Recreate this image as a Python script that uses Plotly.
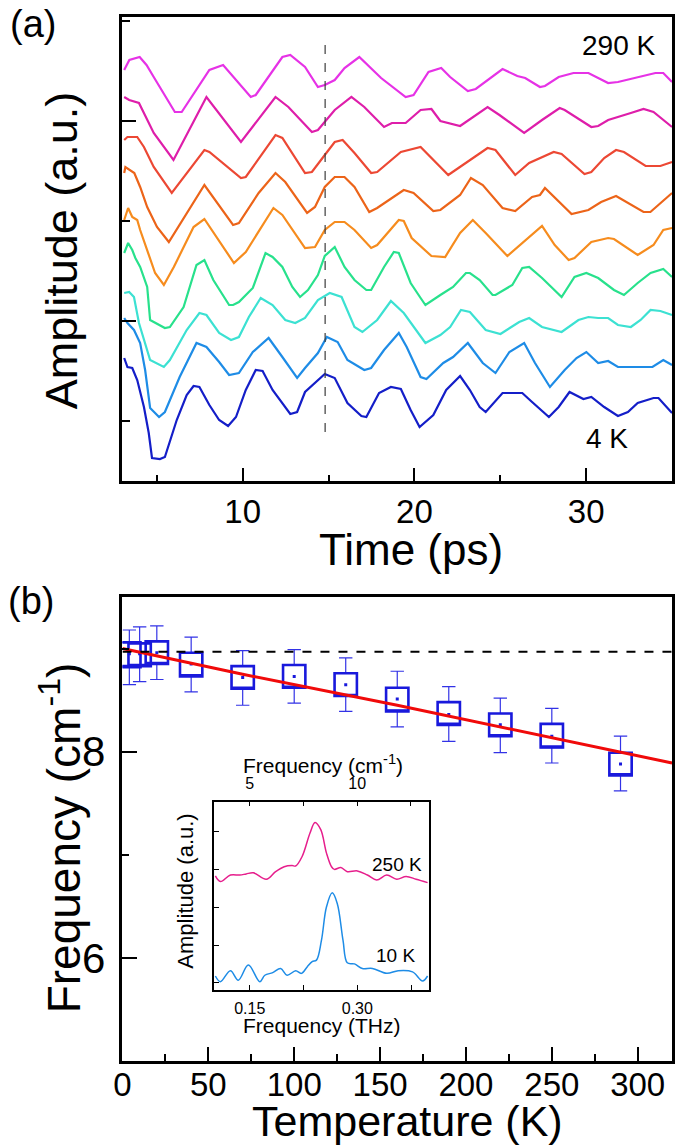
import plotly.graph_objects as go

# ---------------- Panel (a): time traces (time in ps, amplitude in a.u. incl. offset) -------------
t1 = [3.1, 3.4, 4.0, 4.4, 4.82, 5.4, 6.05, 6.45, 8.06, 8.86, 10.47, 10.76, 12.31, 12.77, 13.63, 14.38, 14.78, 15.36, 15.93, 16.79, 17.66, 18.06, 19.49, 19.95, 20.82, 21.56, 22.08, 23.11, 23.57, 25.13, 25.99, 26.45, 27.31, 27.60, 28.40, 29.26, 30.13, 31.28, 31.85, 32.60, 34.03, 34.49, 35.0]
a1 = [351, 361, 364, 356, 344, 328, 309, 309, 351, 356, 324, 326, 364, 366, 354, 334, 336, 341, 353, 364, 349, 343, 324, 326, 349, 353, 344, 330, 332, 352, 345, 343, 334, 335, 344, 348, 348, 338, 339, 342, 348, 348, 339]

t2 = [3.1, 3.39, 3.96, 4.25, 4.82, 5.97, 7.89, 9.9, 11.91, 12.66, 14.03, 14.38, 15.36, 16.33, 17.08, 18.23, 18.69, 19.49, 20.36, 20.99, 21.51, 22.66, 24.26, 24.95, 26.39, 27.43, 28.46, 28.75, 30.30, 30.70, 31.28, 32.60, 33.34, 33.92, 35.0]
a2 = [324, 321, 318, 308, 288, 261, 324, 279, 324, 314, 289, 291, 311, 324, 314, 294, 298, 298, 311, 312, 300, 295, 314, 306, 288, 301, 313, 311, 294, 295, 301, 308, 312, 309, 294]

t3 = [3.1, 3.29, 3.86, 4.25, 4.82, 5.87, 7.77, 8.06, 9.9, 10.18, 11.91, 12.31, 13.63, 14.03, 14.78, 15.36, 15.82, 16.51, 17.48, 17.83, 19.21, 20.36, 21.97, 22.66, 24.26, 24.72, 25.87, 26.68, 28.11, 28.57, 29.90, 30.30, 31.05, 31.74, 32.20, 33.46, 34.32, 35.0]
a3 = [281, 284, 284, 274, 254, 228, 271, 269, 243, 244, 286, 283, 248, 249, 266, 279, 281, 268, 248, 249, 269, 274, 246, 254, 273, 271, 246, 258, 269, 267, 247, 249, 263, 271, 269, 255, 255, 259]

t4 = [3.1, 3.17, 3.69, 4.03, 4.44, 5.01, 5.70, 7.77, 9.44, 9.78, 10.93, 11.91, 12.48, 13.75, 14.21, 14.78, 15.36, 15.93, 16.51, 17.37, 17.83, 19.38, 19.95, 21.10, 21.51, 22.66, 23.29, 23.98, 25.13, 25.87, 26.85, 27.31, 27.60, 29.15, 30.13, 30.87, 31.74, 33.34, 33.74, 35.0]
a4 = [248, 254, 248, 234, 214, 194, 179, 236, 196, 198, 228, 248, 239, 208, 214, 234, 244, 244, 234, 209, 213, 231, 228, 210, 211, 226, 243, 236, 213, 210, 224, 226, 233, 207, 211, 219, 225, 209, 209, 228]

t5 = [3.1, 3.33, 3.57, 3.86, 4.03, 4.44, 4.90, 5.41, 5.99, 7.14, 7.77, 9.49, 10.18, 11.79, 12.31, 13.63, 14.21, 14.78, 15.36, 15.93, 16.51, 17.48, 17.83, 19.09, 19.38, 19.84, 20.99, 21.79, 22.66, 23.40, 24.15, 25.41, 26.28, 27.43, 28.17, 28.98, 29.32, 30.30, 31.28, 31.62, 33.0, 33.92, 34.49, 35.0]
a5 = [201, 213, 204, 201, 191, 171, 148, 136, 154, 194, 202, 158, 169, 213, 206, 173, 174, 191, 199, 199, 191, 173, 176, 201, 200, 183, 165, 164, 188, 201, 188, 165, 178, 195, 176, 161, 163, 179, 183, 182, 166, 176, 191, 193]

t6 = [3.1, 3.33, 3.57, 3.75, 4.03, 4.44, 4.61, 5.47, 5.76, 6.56, 7.31, 7.77, 8.29, 9.21, 9.44, 9.78, 10.59, 11.33, 11.74, 12.31, 12.89, 13.34, 13.80, 14.38, 14.78, 15.36, 15.93, 16.51, 17.20, 17.48, 18.23, 18.80, 19.09, 19.78, 20.36, 20.64, 21.51, 22.25, 23.0, 23.23, 23.80, 24.55, 24.72, 25.70, 26.28, 26.68, 27.43, 28.57, 29.32, 30.01, 30.70, 31.62, 32.20, 33.0, 33.75, 34.49, 35.0]
a6 = [168, 178, 171, 163, 154, 134, 101, 93, 94, 114, 156, 161, 141, 116, 116, 119, 133, 168, 164, 154, 134, 124, 131, 146, 165, 174, 154, 141, 131, 131, 154, 169, 168, 138, 123, 116, 126, 134, 148, 148, 141, 126, 126, 136, 153, 154, 143, 124, 144, 148, 143, 131, 126, 138, 148, 152, 144]

t7 = [3.1, 3.39, 3.67, 3.96, 4.61, 5.41, 5.76, 6.74, 7.48, 7.89, 8.63, 9.32, 9.78, 10.36, 11.05, 11.74, 12.48, 13.06, 13.63, 14.38, 15.07, 15.76, 16.51, 16.97, 17.83, 18.63, 19.38, 20.64, 21.51, 22.08, 22.71, 23.23, 24.15, 25.01, 26.10, 26.68, 27.43, 28.57, 29.55, 30.13, 30.70, 31.28, 31.85, 32.60, 33.17, 33.75, 34.32, 35.0]
a7 = [128, 129, 124, 98, 61, 54, 61, 91, 108, 106, 88, 81, 84, 104, 123, 116, 101, 98, 103, 121, 128, 124, 94, 89, 101, 120, 108, 78, 86, 94, 111, 109, 91, 87, 99, 103, 94, 89, 101, 104, 103, 103, 96, 94, 101, 111, 110, 106]

t8 = [3.1, 3.29, 3.67, 4.03, 4.32, 4.61, 5.13, 5.47, 6.33, 7.31, 7.89, 8.63, 9.21, 9.78, 10.59, 11.51, 12.31, 13.17, 13.63, 14.38, 14.90, 15.53, 16.10, 17.08, 17.48, 18.23, 19.09, 19.55, 20.36, 20.70, 21.68, 22.25, 23.11, 23.98, 24.72, 25.53, 26.39, 27.02, 27.89, 28.75, 29.44, 30.01, 30.70, 31.28, 31.85, 33.0, 33.86, 34.49, 35.0]
a8 = [103, 98, 91, 78, 51, 13, 4, 9, 44, 78, 74, 59, 46, 48, 69, 83, 64, 43, 53, 68, 84, 79, 61, 51, 53, 71, 88, 74, 44, 42, 58, 64, 78, 58, 48, 69, 78, 58, 34, 51, 63, 69, 58, 60, 54, 54, 54, 61, 56]

t9 = [3.10, 3.29, 3.57, 3.86, 4.25, 4.53, 4.72, 5.18, 5.47, 6.16, 6.74, 7.14, 7.48, 8.06, 8.63, 9.15, 9.61, 10.18, 10.76, 11.16, 11.74, 12.31, 12.77, 13.17, 13.63, 14.78, 15.36, 16.10, 16.91, 17.20, 17.94, 18.63, 19.21, 19.78, 20.30, 21.10, 21.85, 22.66, 23.23, 23.80, 24.15, 25.13, 25.70, 26.28, 26.85, 27.83, 28.40, 29.03, 29.84, 30.30, 31.05, 31.85, 32.43, 33.0, 33.92, 34.21, 35.0]
a9 = [63, 54, 53, 41, 14, -12, -37, -38, -36, 1, 26, 35, 34, 16, 1, -5, 4, 31, 51, 50, 31, 18, 7, 9, 29, 47, 43, 18, 5, 4, 28, 34, 32, 11, -6, 6, 31, 45, 31, 14, 9, 28, 28, 28, 19, 4, 14, 29, 22, 24, 14, 5, 9, 18, 23, 23, 8]

trace_times = [t1, t2, t3, t4, t5, t6, t7, t8, t9]
trace_amps = [a1, a2, a3, a4, a5, a6, a7, a8, a9]
trace_colors = ["rgb(230,50,230)", "rgb(222,30,170)", "rgb(236,72,52)", "rgb(236,100,25)",
                "rgb(246,140,30)", "rgb(40,225,140)", "rgb(60,225,210)", "rgb(30,140,230)",
                "rgb(20,30,200)"]

marker_time = 14.8          # dashed vertical guide (ps)
marker_amp = [376, -11]

# ---------------- Panel (b): frequency vs temperature -------------------------------
temps = [4, 10, 20, 40, 70, 100, 130, 160, 190, 220, 250, 290]
whisk_hi = [9.18, 9.21, 9.22, 9.11, 8.98, 8.99, 8.91, 8.78, 8.63, 8.52, 8.42, 8.15]
box_hi = [9.06, 9.05, 9.07, 8.96, 8.83, 8.84, 8.76, 8.62, 8.48, 8.37, 8.27, 7.99]
freq_mean = [8.95, 8.95, 8.96, 8.85, 8.72, 8.73, 8.65, 8.51, 8.36, 8.26, 8.15, 7.88]
box_lo = [8.82, 8.83, 8.85, 8.73, 8.61, 8.62, 8.54, 8.39, 8.26, 8.15, 8.04, 7.77]
whisk_lo = [8.65, 8.68, 8.70, 8.58, 8.45, 8.47, 8.39, 8.24, 8.10, 7.99, 7.89, 7.62]

fit_T = [0, 70, 160, 320]
fit_f = [9.00, 8.75, 8.45, 7.89]
ref_T = [0, 320]
ref_f = [8.97, 8.97]

# ---------------- Inset: spectra ---------------------------------------------------
CM_PER_THZ = 33.356
f250 = [0.102, 0.109, 0.123, 0.136, 0.145, 0.155, 0.173, 0.186, 0.198, 0.209, 0.214, 0.223, 0.234, 0.241, 0.249, 0.257, 0.264, 0.268, 0.277, 0.286, 0.300, 0.314, 0.327, 0.341, 0.355, 0.368, 0.382, 0.398]
a250 = [2.83, 2.68, 2.85, 2.85, 2.88, 2.91, 2.74, 2.94, 3.07, 3.10, 3.09, 3.34, 3.96, 4.24, 4.05, 3.43, 3.07, 3.00, 3.05, 2.94, 2.96, 2.85, 2.72, 2.85, 2.74, 2.81, 2.74, 2.65]
f10 = [0.102, 0.109, 0.123, 0.134, 0.148, 0.164, 0.171, 0.182, 0.193, 0.202, 0.214, 0.222, 0.230, 0.237, 0.243, 0.250, 0.257, 0.265, 0.272, 0.280, 0.286, 0.296, 0.307, 0.321, 0.341, 0.357, 0.377, 0.391, 0.398]
a10 = [0.18, 0.03, 0.32, 0.07, 0.47, 0.03, 0.20, 0.27, 0.38, 0.20, 0.32, 0.25, 0.42, 0.56, 0.60, 1.13, 2.01, 2.38, 2.10, 1.13, 0.53, 0.50, 0.38, 0.38, 0.25, 0.32, 0.29, 0.05, 0.18]

# ---------------- Layout geometry ----------------------------------------------------
W, H = 675, 1147
FONT = "Liberation Sans, Arial, Helvetica, sans-serif"


def px(x):
    return x / W


def py(y):
    return 1 - y / H


fig = go.Figure()

# panel (a) traces
for tt, aa, cc in zip(trace_times, trace_amps, trace_colors):
    fig.add_trace(go.Scatter(x=tt, y=aa, mode="lines", line=dict(color=cc, width=2.2),
                             xaxis="x", yaxis="y", showlegend=False, hoverinfo="skip"))
fig.add_trace(go.Scatter(x=[marker_time, marker_time], y=marker_amp, mode="lines",
                         line=dict(color="rgb(60,60,60)", width=1.2, dash="dash"),
                         xaxis="x", yaxis="y", showlegend=False, hoverinfo="skip"))

# panel (b) boxes: thin whiskers + thicker boxes
blue = "rgb(25,25,220)"
fig.add_trace(go.Box(x=temps, q1=box_lo, median=box_lo, q3=box_hi,
                     lowerfence=whisk_lo, upperfence=whisk_hi, width=13,
                     whiskerwidth=0.6, line=dict(color="rgb(50,50,230)", width=1.2),
                     fillcolor="rgba(0,0,0,0)", xaxis="x2", yaxis="y2",
                     showlegend=False, hoverinfo="skip", boxpoints=False))
fig.add_trace(go.Box(x=temps, q1=box_lo, median=box_lo, q3=box_hi,
                     lowerfence=box_lo, upperfence=box_hi, width=13,
                     whiskerwidth=0, line=dict(color=blue, width=2.6),
                     fillcolor="rgba(0,0,0,0)", xaxis="x2", yaxis="y2",
                     showlegend=False, hoverinfo="skip", boxpoints=False))
fig.add_trace(go.Scatter(x=temps, y=freq_mean, mode="markers",
                         marker=dict(color=blue, size=3, symbol="square"),
                         xaxis="x2", yaxis="y2", showlegend=False, hoverinfo="skip"))
fig.add_trace(go.Scatter(x=fit_T, y=fit_f, mode="lines", line=dict(color="rgb(240,10,10)", width=3),
                         xaxis="x2", yaxis="y2", showlegend=False, hoverinfo="skip"))
fig.add_trace(go.Scatter(x=ref_T, y=ref_f, mode="lines",
                         line=dict(color="black", width=2, dash="dash"),
                         xaxis="x2", yaxis="y2", showlegend=False, hoverinfo="skip"))

# inset
fig.add_trace(go.Scatter(x=f10, y=a10, mode="lines", line=dict(color="rgb(30,140,230)", width=1.5, shape="spline"),
                         xaxis="x3", yaxis="y3", showlegend=False, hoverinfo="skip"))
fig.add_trace(go.Scatter(x=[f * CM_PER_THZ for f in f250], y=a250, mode="lines",
                         line=dict(color="rgb(230,30,140)", width=1.5, shape="spline"),
                         xaxis="x4", yaxis="y3", showlegend=False, hoverinfo="skip"))

axis_common = dict(showline=True, linecolor="black", showgrid=False, zeroline=False,
                   ticks="inside", tickcolor="black")

fig.update_layout(
    width=W, height=H, margin=dict(l=0, r=0, t=0, b=0),
    paper_bgcolor="white", plot_bgcolor="rgba(0,0,0,0)",
    font=dict(family=FONT, color="black"), showlegend=False, boxmode="overlay",
    xaxis=dict(domain=[px(115), px(672)], anchor="y", range=[3, 35], tick0=0, dtick=10,
               ticklen=13, tickwidth=2, linewidth=2.5, mirror=True,
               minor=dict(dtick=5, ticklen=6, tickwidth=2, ticks="inside", tickcolor="black"),
               tickfont=dict(size=33), ticklabelstandoff=0, **axis_common),
    yaxis=dict(domain=[py(481), py(17)], anchor="x", range=[-60, 404], tick0=100, dtick=200,
               ticklen=14, tickwidth=2, linewidth=2.5, mirror=True, showticklabels=False,
               minor=dict(dtick=100, tick0=0, ticklen=8, tickwidth=2, ticks="inside", tickcolor="black"),
               **axis_common),
    xaxis2=dict(domain=[px(115), px(672)], anchor="y2", range=[0, 320], tick0=0, dtick=50,
                ticklen=14, tickwidth=2, linewidth=2.5, mirror=True,
                minor=dict(dtick=25, ticklen=7, tickwidth=2, ticks="inside", tickcolor="black"),
                tickfont=dict(size=33), ticklabelstandoff=-7, **axis_common),
    yaxis2=dict(domain=[py(1061), py(597)], anchor="x2", range=[5, 9.5], tick0=0, dtick=2,
                ticklen=15, tickwidth=2, linewidth=2.5, mirror=True,
                minor=dict(dtick=1, ticklen=7, tickwidth=2, ticks="inside", tickcolor="black"),
                tickfont=dict(size=42), ticklabelstandoff=6, **axis_common),
    xaxis3=dict(domain=[px(207.7), px(425.7)], anchor="y3", range=[0.10, 0.40], tick0=0, dtick=0.15,
                tickformat=".2f", ticklen=5, tickwidth=1, linewidth=1.5, mirror=False,
                minor=dict(dtick=0.075, ticklen=5, tickwidth=1, ticks="inside", tickcolor="black"),
                tickfont=dict(size=16), ticklabelstandoff=3, **axis_common),
    xaxis4=dict(overlaying="x3", anchor="y3", side="top",
                range=[0.10 * CM_PER_THZ, 0.40 * CM_PER_THZ], tick0=0, dtick=5,
                ticklen=5, tickwidth=1, linewidth=1.5,
                minor=dict(dtick=2.5, ticklen=5, tickwidth=1, ticks="inside", tickcolor="black"),
                tickfont=dict(size=16), ticklabelstandoff=5, **axis_common),
    yaxis3=dict(domain=[py(990), py(801.7)], anchor="x3", range=[-0.19, 4.79], tick0=0, dtick=1,
                ticklen=5, tickwidth=1, linewidth=1.5, mirror=True, showticklabels=False,
                **axis_common),
)

ann = [
    dict(text="(a)", x=px(24), y=py(24), size=38, angle=0),
    dict(text="(b)", x=px(22), y=py(601), size=38, angle=0),
    dict(text="Amplitude (a.u.)", x=px(54), y=py(250), size=45, angle=-90),
    dict(text="Time (ps)", x=px(407), y=py(549), size=44, angle=0),
    dict(text="Frequency (cm<sup>-1</sup>)", x=px(52), y=py(838), size=46, angle=-90),
    dict(text="Temperature (K)", x=px(404), y=py(1121), size=43, angle=0),
    dict(text="Frequency (cm<sup>-1</sup>)", x=px(318), y=py(764), size=21, angle=0),
    dict(text="Frequency (THz)", x=px(317), y=py(1025), size=21, angle=0),
    dict(text="Amplitude (a.u.)", x=px(178), y=py(891), size=22, angle=-90),
]
for a in ann:
    fig.add_annotation(text=a["text"], x=a["x"], y=a["y"], xref="paper", yref="paper",
                       xanchor="center", yanchor="middle", showarrow=False,
                       textangle=a["angle"], font=dict(size=a["size"], color="black", family=FONT))

# data labels
fig.add_annotation(text="290 K", x=31.9, y=376, xref="x", yref="y", showarrow=False,
                   font=dict(size=28, color="black", family=FONT))
fig.add_annotation(text="4 K", x=31.2, y=-17, xref="x", yref="y", showarrow=False,
                   font=dict(size=28, color="black", family=FONT))
fig.add_annotation(text="250 K", x=0.3556, y=3.12, xref="x3", yref="y3", showarrow=False,
                   font=dict(size=19, color="black", family=FONT))
fig.add_annotation(text="10 K", x=0.3535, y=0.73, xref="x3", yref="y3", showarrow=False,
                   font=dict(size=19, color="black", family=FONT))

fig.write_html("out.html", config={"displayModeBar": False},
               post_script="document.body.style.margin='0';document.body.style.padding='0';document.body.style.overflow='hidden';")
